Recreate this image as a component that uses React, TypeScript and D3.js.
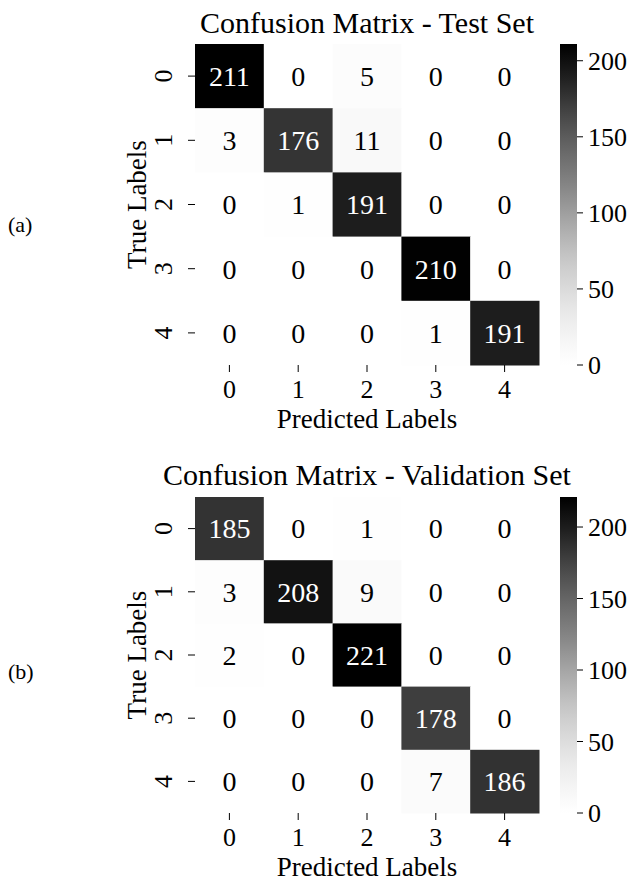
import React from "react";
import * as d3 from "d3";

const classes = ["0", "1", "2", "3", "4"];
const testMatrix = [
  [211, 0, 5, 0, 0],
  [3, 176, 11, 0, 0],
  [0, 1, 191, 0, 0],
  [0, 0, 0, 210, 0],
  [0, 0, 0, 1, 191],
];
const valMatrix = [
  [185, 0, 1, 0, 0],
  [3, 208, 9, 0, 0],
  [2, 0, 221, 0, 0],
  [0, 0, 0, 178, 0],
  [0, 0, 0, 7, 186],
];
const colorbarTicks = [0, 50, 100, 150, 200];
const titles = ["Confusion Matrix - Test Set", "Confusion Matrix - Validation Set"];
const panelLetters = ["(a)", "(b)"];
const xAxisLabel = "Predicted Labels";
const yAxisLabel = "True Labels";

const FONT = "'Liberation Serif', 'Times New Roman', serif";

type PanelProps = {
  id: string;
  matrix: number[][];
  title: string;
  letter: string;
  y0: number;
  y1: number;
  titleY: number;
  letterY: number;
};

function Panel({ id, matrix, title, letter, y0, y1, titleY, letterY }: PanelProps) {
  const x0 = 195;
  const x1 = 539;
  const vmax = d3.max(matrix.flat()) as number;
  const x = d3.scaleBand<string>().domain(classes).range([x0, x1]).padding(0);
  const y = d3.scaleBand<string>().domain(classes).range([y0, y1]).padding(0);
  const color = (v: number) => d3.interpolateGreys(v / vmax);
  const cbX = 560;
  const cbW = 17;
  const cbScale = d3.scaleLinear().domain([0, vmax]).range([y1, y0]);
  const stops = d3.range(0, 1.0001, 0.05);
  const textColor = (v: number) => {
    const c = d3.rgb(color(v));
    const lum = (0.2126 * c.r + 0.7152 * c.g + 0.0722 * c.b) / 255;
    return lum < 0.408 ? "#ffffff" : "#000000";
  };
  const midX = (x0 + x1) / 2;
  const midY = (y0 + y1) / 2;
  return (
    <g fontFamily={FONT} fill="#000">
      <defs>
        <linearGradient id={id} x1="0" y1="1" x2="0" y2="0">
          {stops.map((t) => (
            <stop key={t} offset={t} stopColor={d3.interpolateGreys(t)} />
          ))}
        </linearGradient>
      </defs>
      <text x={midX} y={titleY} fontSize={30} textAnchor="middle">
        {title}
      </text>
      {matrix.map((row, i) =>
        row.map((v, j) => (
          <g key={`${i}-${j}`}>
            <rect
              x={x(classes[j])}
              y={y(classes[i])}
              width={x.bandwidth() + 0.5}
              height={y.bandwidth() + 0.5}
              fill={color(v)}
            />
            <text
              x={(x(classes[j]) as number) + x.bandwidth() / 2}
              y={(y(classes[i]) as number) + y.bandwidth() / 2}
              dy="0.35em"
              fontSize={28}
              textAnchor="middle"
              fill={textColor(v)}
            >
              {v}
            </text>
          </g>
        ))
      )}
      {classes.map((c) => {
        const cx = (x(c) as number) + x.bandwidth() / 2;
        return (
          <g key={`xt${c}`}>
            <line x1={cx} x2={cx} y1={y1} y2={y1 + 7} stroke="#000" strokeWidth={1} />
            <text x={cx} y={y1 + 33} fontSize={26} textAnchor="middle">
              {c}
            </text>
          </g>
        );
      })}
      {classes.map((c) => {
        const cy = (y(c) as number) + y.bandwidth() / 2;
        return (
          <g key={`yt${c}`}>
            <line x1={x0 - 7} x2={x0} y1={cy} y2={cy} stroke="#000" strokeWidth={1} />
            <text transform={`translate(172,${cy}) rotate(-90)`} fontSize={26} textAnchor="middle">
              {c}
            </text>
          </g>
        );
      })}
      <text x={midX} y={y1 + 63} fontSize={27} textAnchor="middle">
        {xAxisLabel}
      </text>
      <text transform={`translate(146,${midY}) rotate(-90)`} fontSize={27} textAnchor="middle">
        {yAxisLabel}
      </text>
      <rect x={cbX} y={y0} width={cbW} height={y1 - y0} fill={`url(#${id})`} />
      {colorbarTicks.map((t) => (
        <g key={`cb${t}`}>
          <line x1={cbX + cbW} x2={cbX + cbW + 6} y1={cbScale(t)} y2={cbScale(t)} stroke="#000" />
          <text x={cbX + cbW + 11} y={cbScale(t)} dy="0.35em" fontSize={26}>
            {t}
          </text>
        </g>
      ))}
      <text x={8} y={letterY} fontSize={22}>
        {letter}
      </text>
    </g>
  );
}

export default function App() {
  return (
    <svg
      width={630}
      height={881}
      style={{ position: "absolute", left: 0, top: 0, background: "#fff" }}
    >
      <rect width={630} height={881} fill="#fff" />
      <Panel
        id="cbA"
        matrix={testMatrix}
        title={titles[0]}
        letter={panelLetters[0]}
        y0={44}
        y1={365}
        titleY={33}
        letterY={232}
      />
      <Panel
        id="cbB"
        matrix={valMatrix}
        title={titles[1]}
        letter={panelLetters[1]}
        y0={497}
        y1={813}
        titleY={485}
        letterY={679}
      />
    </svg>
  );
}
